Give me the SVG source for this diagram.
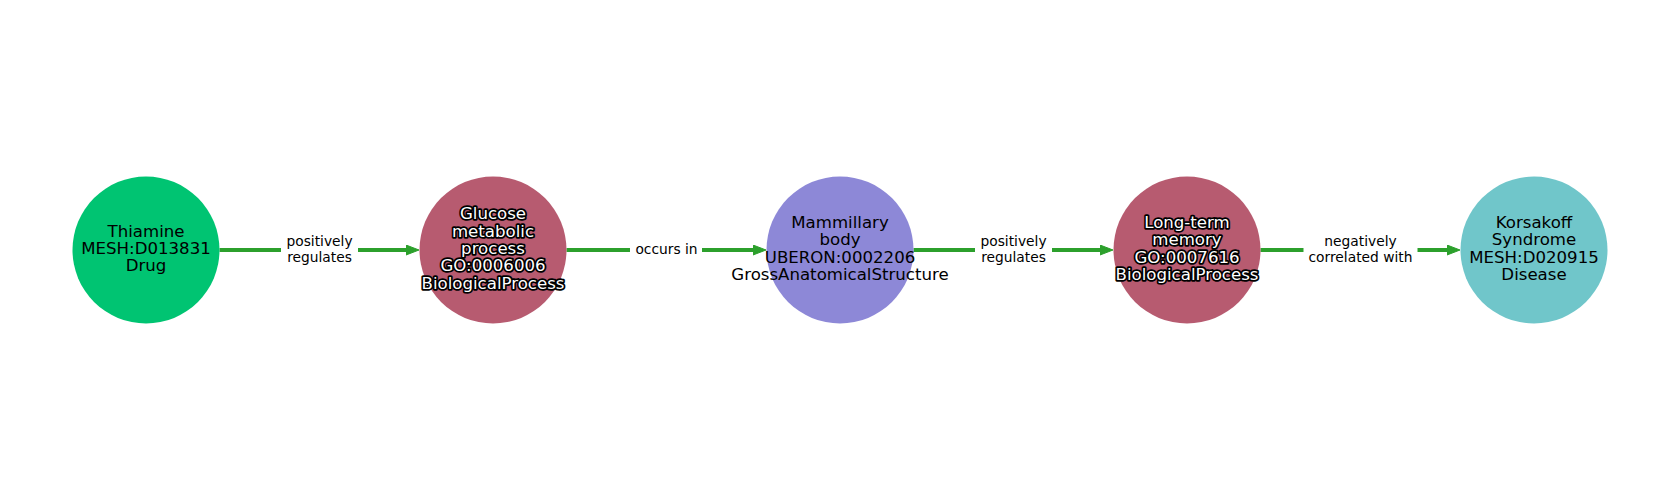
<svg xmlns="http://www.w3.org/2000/svg" width="1680" height="500" viewBox="0 0 1680 500">
<defs>
<style>
.node text{font-family:"DejaVu Sans","Liberation Sans",sans-serif;font-size:16.6px;text-anchor:middle;fill:#000}
.node.bp text{fill:#fff;stroke:#000;stroke-width:3.5px;paint-order:stroke;stroke-linejoin:round}
.edge line{stroke:#2ca02c;stroke-width:4;marker-end:url(#arr)}
.edge rect{fill:#fff}
.edge text{font-family:"DejaVu Sans","Liberation Sans",sans-serif;font-size:13.8px;text-anchor:middle;fill:#000}
</style>
<marker id="arr" markerUnits="userSpaceOnUse" markerWidth="16" markerHeight="14" refX="1" refY="5.5" orient="auto">
<path d="M0,0.5 L13,5.5 L0,10.5 z" fill="#2ca02c" stroke="#2ca02c" stroke-width="1" stroke-linejoin="round"/>
</marker>
</defs>
<rect width="1680" height="500" fill="#fff"/>
<g id="connectors">
<g class="edge" id="e1">
<line x1="219.5" y1="250" x2="407" y2="250"/>
<rect x="281" y="234" width="77" height="34"/>
<text x="319.5" y="246">positively</text>
<text x="319.5" y="261.7">regulates</text>
</g>
<g class="edge" id="e2">
<line x1="566.5" y1="250" x2="754" y2="250"/>
<rect x="630" y="240" width="72" height="20"/>
<text x="666.5" y="254">occurs in</text>
</g>
<g class="edge" id="e3">
<line x1="913.5" y1="250" x2="1101" y2="250"/>
<rect x="975" y="234" width="77" height="34"/>
<text x="1013.5" y="246">positively</text>
<text x="1013.5" y="261.7">regulates</text>
</g>
<g class="edge" id="e4">
<line x1="1260.5" y1="250" x2="1448" y2="250"/>
<rect x="1303.5" y="234" width="114" height="34"/>
<text x="1360.5" y="246">negatively</text>
<text x="1360.5" y="261.7">correlated with</text>
</g>
</g>
<g class="node" id="thiamine">
<circle cx="146" cy="250" r="73.5" fill="#00c472"/>
<text x="146" y="236.6">Thiamine</text>
<text x="146" y="254">MESH:D013831</text>
<text x="146" y="271.4">Drug</text>
</g>
<g class="node bp" id="glucose">
<circle cx="493" cy="250" r="73.5" fill="#b75b70"/>
<text x="493" y="219.2">Glucose</text>
<text x="493" y="236.6">metabolic</text>
<text x="493" y="254">process</text>
<text x="493" y="271.4">GO:0006006</text>
<text x="493" y="288.8">BiologicalProcess</text>
</g>
<g class="node" id="mammillary">
<circle cx="840" cy="250" r="73.5" fill="#8d88d7"/>
<text x="840" y="227.9">Mammillary</text>
<text x="840" y="245.3">body</text>
<text x="840" y="262.7">UBERON:0002206</text>
<text x="840" y="280.1">GrossAnatomicalStructure</text>
</g>
<g class="node bp" id="longterm">
<circle cx="1187" cy="250" r="73.5" fill="#b75b70"/>
<text x="1187" y="227.9">Long-term</text>
<text x="1187" y="245.3">memory</text>
<text x="1187" y="262.7">GO:0007616</text>
<text x="1187" y="280.1">BiologicalProcess</text>
</g>
<g class="node" id="korsakoff">
<circle cx="1534" cy="250" r="73.5" fill="#70c6ca"/>
<text x="1534" y="227.9">Korsakoff</text>
<text x="1534" y="245.3">Syndrome</text>
<text x="1534" y="262.7">MESH:D020915</text>
<text x="1534" y="280.1">Disease</text>
</g>
</svg>
